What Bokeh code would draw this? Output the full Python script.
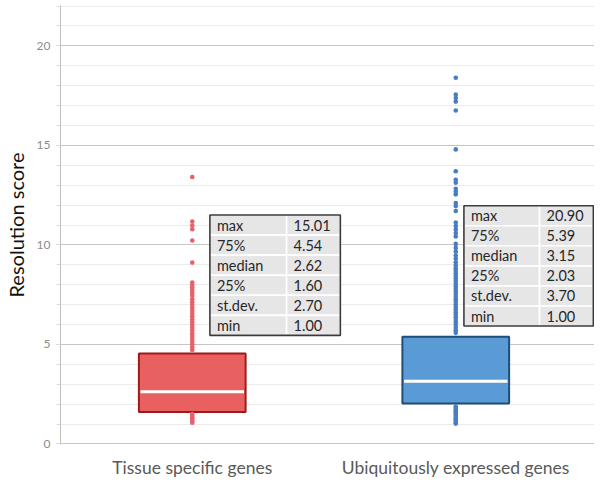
from bokeh.plotting import figure
from bokeh.models import Range1d, FixedTicker
from bokeh.core.properties import value
from bokeh.embed import file_html
from bokeh.resources import INLINE

# ---------------- data ----------------
categories = ["Tissue specific genes", "Ubiquitously expressed genes"]
stat_names = ["max", "75%", "median", "25%", "st.dev.", "min"]
tissue_stats = [15.01, 4.54, 2.62, 1.60, 2.70, 1.00]
ubiq_stats = [20.90, 5.39, 3.15, 2.03, 3.70, 1.00]

tissue_outliers = [13.41, 11.17, 10.97, 10.79, 10.22, 9.11,
                   8.11, 7.98, 7.86, 7.73, 7.58, 7.44, 7.27, 7.12, 6.98, 6.83,
                   6.68, 6.54, 6.40, 6.26, 6.12, 5.98, 5.84, 5.70, 5.56, 5.42,
                   5.28, 5.14, 5.00, 4.86, 4.72,
                   1.50, 1.42, 1.34, 1.27, 1.20, 1.13, 1.06]
ubiq_outliers = [18.40, 17.55, 17.38, 17.20, 16.75, 14.80, 13.70, 13.27, 13.12,
                 12.82, 12.67, 12.54, 12.10, 11.95, 11.70, 11.12, 10.95, 10.78,
                 10.60, 10.42, 10.05, 9.85, 9.66, 9.47, 9.30, 9.13, 8.97, 8.83,
                 8.70, 8.57, 8.44, 8.31, 8.18, 8.05, 7.92, 7.79, 7.66, 7.53,
                 7.40, 7.27, 7.14, 7.01, 6.88, 6.75, 6.62, 6.49, 6.36, 6.23,
                 6.10, 5.97, 5.84, 5.71, 5.58,
                 1.88, 1.80, 1.72, 1.64, 1.56, 1.48, 1.40, 1.32, 1.24, 1.16,
                 1.08, 1.02]

y_major_ticks = [0, 5, 10, 15, 20]
y_minor_ticks = list(range(0, 23))

# ---------------- style ----------------
FONT = "Lato"
fills = ["#E8605F", "#5B9BD5"]
edges = ["#A0191B", "#1F4E79"]
dots = ["#E8616A", "#4A7DC0"]
box_w = 0.405

p = figure(width=594, height=480, output_backend="svg", toolbar_location=None,
           x_range=Range1d(0, 2.0265), y_range=Range1d(-0.03, 22.03),
           min_border_left=58, min_border_right=0, min_border_top=5,
           min_border_bottom=35)
p.outline_line_color = None
p.background_fill_color = "white"

# y axis
yax = p.yaxis[0]
yax.ticker = FixedTicker(ticks=y_major_ticks, minor_ticks=y_minor_ticks)
yax.axis_line_color = "#BFBFBF"
yax.major_tick_line_color = "#BFBFBF"
yax.minor_tick_line_color = "#D9D9D9"
yax.major_tick_out = 4
yax.major_tick_in = 0
yax.minor_tick_out = 4
yax.minor_tick_in = 0
yax.major_label_text_font = FONT
yax.major_label_text_font_size = "12px"
yax.major_label_text_color = "#8C8C8C"
yax.major_label_standoff = 6
yax.axis_label = "Resolution score"
yax.axis_label_text_font = FONT
yax.axis_label_text_font_size = "20px"
yax.axis_label_text_font_style = "normal"
yax.axis_label_text_color = "#111111"
yax.axis_label_standoff = 6

# x axis
xax = p.xaxis[0]
xs = [i + 0.5 for i in range(len(categories))]
xax.ticker = FixedTicker(ticks=xs)
xax.major_label_overrides = {x: c for x, c in zip(xs, categories)}
xax.axis_line_color = None
xax.major_tick_line_color = None
xax.minor_tick_line_color = None
xax.major_tick_out = 0
xax.major_tick_in = 0
xax.major_label_text_font = FONT
xax.major_label_text_font_size = "17.5px"
xax.major_label_text_color = "#595959"
xax.major_label_standoff = 12

# grids
p.xgrid.grid_line_color = None
p.ygrid.grid_line_color = "#C6C6C6"
p.ygrid.grid_line_width = 1
p.ygrid.minor_grid_line_color = "#EBEBEB"

# boxes
all_stats = [tissue_stats, ubiq_stats]
all_outliers = [tissue_outliers, ubiq_outliers]
for i, (x, st, outl) in enumerate(zip(xs, all_stats, all_outliers)):
    q3, med, q1 = st[1], st[2], st[3]
    p.vbar(x=[x], width=box_w, bottom=[q1], top=[q3], fill_color=fills[i],
           line_color=edges[i], line_width=2)
    p.segment(x0=[x - box_w / 2 + 0.006], x1=[x + box_w / 2 - 0.006],
              y0=[med], y1=[med], line_color="white", line_width=3)
    p.scatter(x=[x] * len(outl), y=outl, size=4.6, fill_color=dots[i],
              line_color=None)

# stats tables (position: left, divider, right, top, row height in data units)
table_pos = [(0.567, 0.858, 1.062, 11.50, 1.008),
             (1.531, 1.818, 2.022, 11.97, 1.008)]
for (left, mid, right, top, rh), st in zip(table_pos, all_stats):
    n = len(stat_names)
    tops = [top - k * rh for k in range(n)]
    bots = [t - rh for t in tops]
    p.quad(left=[left] * n + [mid] * n, right=[mid] * n + [right] * n,
           top=tops * 2, bottom=bots * 2, fill_color="#E7E6E6",
           line_color="white", line_width=1.6)
    p.quad(left=[left], right=[right], top=[top], bottom=[bots[-1]],
           fill_color=None, line_color="#3A3A3A", line_width=1.6)
    centers = [t - rh / 2 for t in tops]
    p.text(x=[left] * n, y=centers, text=stat_names, x_offset=7,
           text_baseline="middle", text_align="left",
           text_font=value(FONT), text_font_size="14.5px", text_color="#262626")
    p.text(x=[mid] * n, y=centers, text=[f"{v:.2f}" for v in st], x_offset=7,
           text_baseline="middle", text_align="left",
           text_font=value(FONT), text_font_size="14.5px", text_color="#262626")

open("out.html", "w").write(file_html(p, INLINE))
